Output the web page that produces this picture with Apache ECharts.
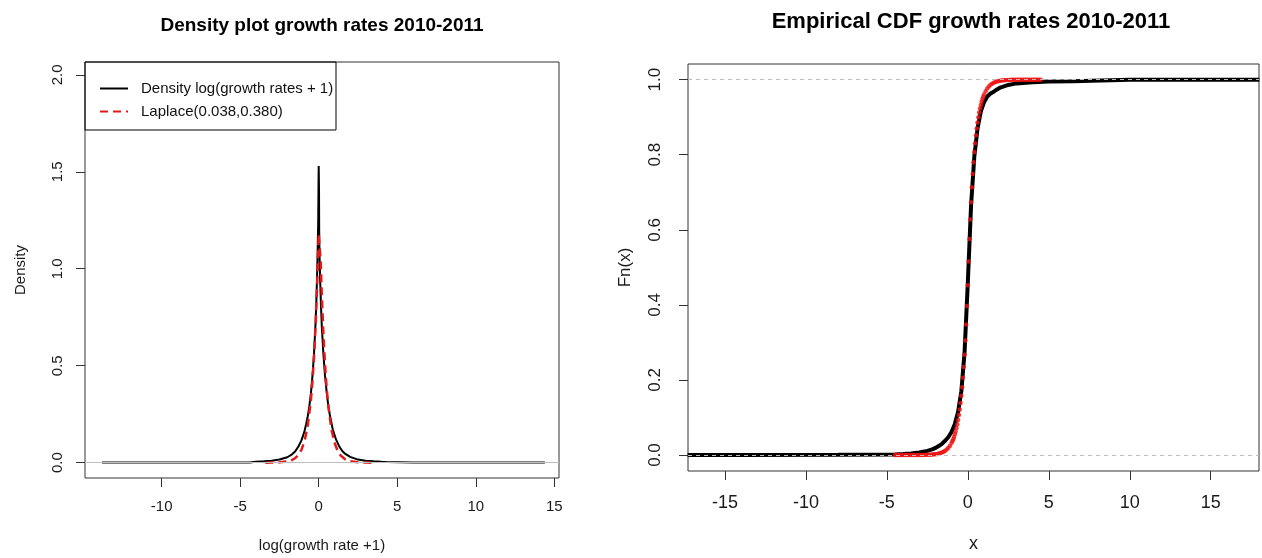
<!DOCTYPE html>
<html>
<head>
<meta charset="utf-8">
<script src="https://cdn.jsdelivr.net/npm/echarts@6/dist/echarts.min.js"></script>
<style>
html,body{margin:0;padding:0;background:#fff;}
#c{width:1262px;height:558px;}
</style>
</head>
<body>
<div id="c"></div>
<script>
// ---------- data ----------
const leftTitle = 'Density plot growth rates 2010-2011';
const rightTitle = 'Empirical CDF growth rates 2010-2011';
const densityName = 'Density log(growth rates + 1)';
const laplaceName = 'Laplace(0.038,0.380)';

// left panel: kernel density of log(growth rate + 1)
const densityX = [-13.8,-10,-6,-4.4,-4.3,-4,-3.5,-3,-2.5,-2,-1.7,-1.5,-1.3,-1.1,-1.0,-0.9,-0.8,-0.7,-0.6,-0.5,-0.4,-0.3,-0.2,-0.15,-0.1,-0.06,-0.03,-0.01,0.0,0.01,0.02,0.03,0.05,0.1,0.15,0.2,0.3,0.4,0.5,0.6,0.7,0.8,0.9,1.0,1.1,1.3,1.5,1.7,2.0,2.5,3,3.5,4,4.3,4.4,6,10,14.4];
const densityY = [0.0005,0.0005,0.0005,0.001,0.004,0.005,0.007,0.010,0.016,0.028,0.043,0.058,0.082,0.115,0.138,0.165,0.198,0.238,0.288,0.355,0.445,0.56,0.72,0.83,0.97,1.12,1.25,1.45,1.53,1.53,1.40,1.20,1.08,0.92,0.80,0.70,0.56,0.45,0.37,0.30,0.25,0.21,0.17,0.145,0.12,0.085,0.06,0.045,0.03,0.016,0.010,0.007,0.005,0.004,0.001,0.0005,0.0005,0.0005];

// left panel: Laplace(0.038, 0.380) density (dashed red)
const laplaceX = [-3.4,-3.0,-2.5,-2.0,-1.7,-1.5,-1.3,-1.1,-0.9,-0.7,-0.5,-0.4,-0.3,-0.2,-0.1,-0.05,0.0,0.08,0.13,0.2,0.3,0.4,0.5,0.6,0.8,1.0,1.2,1.4,1.7,2.0,2.5,3.0,3.5];
const laplaceY = [0.0002,0.0004,0.0017,0.0062,0.0136,0.023,0.039,0.066,0.111,0.189,0.319,0.416,0.541,0.704,0.915,1.044,1.18,1.178,1.033,0.859,0.661,0.508,0.390,0.300,0.177,0.105,0.062,0.0366,0.0166,0.0075,0.002,0.0005,0.0001];

// right panel: empirical CDF (black)
const ecdfX = [-17.3,-13.8,-8,-4.5,-4.0,-3.5,-3.0,-2.5,-2.2,-2.0,-1.8,-1.6,-1.4,-1.2,-1.0,-0.8,-0.6,-0.4,-0.2,0.0,0.2,0.4,0.6,0.8,1.0,1.2,1.4,1.6,1.8,2.0,2.5,3.0,4.0,5.0,6.5,6.5,10,14.4,18];
const ecdfY = [0.0,0.0002,0.0008,0.0015,0.0025,0.004,0.007,0.011,0.015,0.019,0.024,0.030,0.038,0.048,0.062,0.083,0.115,0.17,0.275,0.46,0.665,0.795,0.87,0.915,0.94,0.955,0.963,0.968,0.974,0.979,0.986,0.990,0.993,0.995,0.996,0.999,0.9995,1.0,1.0];

// right panel: Laplace CDF points (red)
const laplaceCdfX = [-4.5,-4.4,-4.3,-4.2,-4.1,-4.0,-3.9,-3.8,-3.7,-3.6,-3.5,-3.4,-3.3,-3.2,-3.1,-3.0,-2.9,-2.8,-2.7,-2.6,-2.5,-2.4,-2.3,-2.2,-2.1,-2.0,-1.9,-1.8,-1.7,-1.6,-1.5,-1.4,-1.3,-1.2,-1.1,
  -1.0,-0.95,-0.9,-0.85,-0.8,-0.75,-0.7,-0.65,-0.6,-0.55,-0.5,-0.45,-0.4,-0.35,-0.3,-0.25,-0.2,-0.15,-0.1,-0.05,0.0,0.05,0.1,0.15,0.2,0.25,0.3,0.35,0.4,0.45,0.5,0.55,0.6,0.65,0.7,0.75,0.8,0.85,0.9,0.95,1.0,
  1.1,1.2,1.3,1.4,1.5,1.6,1.7,1.8,1.9,2.0,2.1,2.2,2.3,2.4,2.5,2.6,2.7,2.8,2.9,3.0,3.1,3.2,3.3,3.4,3.5,3.6,3.7,3.8,3.9,4.0,4.1,4.2,4.3,4.4,4.5];
const laplaceCdfY = [0.0000,0.0000,0.0000,0.0000,0.0000,0.0000,0.0000,0.0000,0.0000,0.0001,0.0001,0.0001,0.0001,0.0001,0.0001,0.0002,0.0002,0.0003,0.0004,0.0005,0.0006,0.0008,0.0011,0.0014,0.0018,0.0024,0.0031,0.0040,0.0052,0.0067,0.0087,0.0114,0.0148,0.0192,0.0250,
  0.0326,0.0372,0.0424,0.0484,0.0552,0.0629,0.0718,0.0819,0.0934,0.1065,0.1215,0.1386,0.1581,0.1803,0.2056,0.2345,0.2675,0.3051,0.3480,0.3969,0.4524,0.5155,0.5752,0.6276,0.6735,0.7137,0.7490,0.7800,0.8071,0.8309,0.8517,0.8700,0.8860,0.9001,0.9124,0.9232,0.9327,0.9410,0.9482,0.9546,0.9602,
  0.9694,0.9765,0.9819,0.9861,0.9893,0.9918,0.9937,0.9951,0.9963,0.9971,0.9978,0.9983,0.9987,0.9990,0.9992,0.9994,0.9995,0.9996,0.9997,0.9998,0.9998,0.9999,0.9999,0.9999,0.9999,1.0,1.0,1.0,1.0,1.0,1.0,1.0,1.0,1.0,1.0];

// tick labels
const leftXTicks = [-10,-5,0,5,10,15];
const leftYTicks = [0,0.5,1,1.5,2];
const rightXTicks = [-15,-10,-5,0,5,10,15];
const rightYTicks = [0,0.2,0.4,0.6,0.8,1];
const leftXName = 'log(growth rate +1)';
const leftYName = 'Density';
const rightXName = 'x';
const rightYName = 'Fn(x)';
const refLinesRight = [0, 1];
const refLineLeft = 0;

// ---------- chart ----------
const FONT = 'Liberation Sans, Arial, sans-serif';
const zip = (xs, ys) => xs.map((x, i) => [x, ys[i]]);
const fmt1 = v => Number(v).toFixed(1);

const chart = echarts.init(document.getElementById('c'), null, {renderer: 'canvas'});

function xAx(gi, min, max, ticks, name, fs, margin, gap) {
  return {
    gridIndex: gi, type: 'value', min: min, max: max, position: 'bottom',
    axisLine: {show: false, onZero: false}, splitLine: {show: false},
    axisTick: {show: true, inside: false, length: 9, customValues: ticks, lineStyle: {color: '#333', width: 1}},
    axisLabel: {customValues: ticks, fontSize: fs, fontFamily: FONT, color: '#1a1a1a', margin: margin},
    name: name, nameLocation: 'middle', nameGap: gap,
    nameTextStyle: {fontSize: fs, fontFamily: FONT, color: '#1a1a1a'}
  };
}
function yAx(gi, min, max, ticks, name, fs, margin, gap) {
  return {
    gridIndex: gi, type: 'value', min: min, max: max, position: 'left',
    axisLine: {show: false, onZero: false}, splitLine: {show: false},
    axisTick: {show: true, inside: false, length: 9, customValues: ticks, lineStyle: {color: '#333', width: 1}},
    axisLabel: {customValues: ticks, formatter: fmt1, rotate: 90, fontSize: fs, fontFamily: FONT, color: '#1a1a1a', margin: margin},
    name: name, nameLocation: 'middle', nameRotate: 90, nameGap: gap,
    nameTextStyle: {fontSize: fs, fontFamily: FONT, color: '#1a1a1a'}
  };
}

const option = {
  animation: false,
  backgroundColor: '#fff',
  grid: [
    {left: 85, top: 62, width: 474, height: 416, show: true, borderColor: '#333', borderWidth: 1, backgroundColor: 'transparent'},
    {left: 688, top: 64, width: 571, height: 409, show: true, borderColor: '#333', borderWidth: 1, backgroundColor: 'transparent'}
  ],
  xAxis: [
    xAx(0, -14.88, 15.3, leftXTicks, leftXName, 15, 21, 60),
    xAx(1, -17.28, 17.98, rightXTicks, rightXName, 18, 23, 64)
  ],
  yAxis: [
    yAx(0, -0.079, 2.066, leftYTicks, leftYName, 15, 20, 57),
    yAx(1, -0.0425, 1.0417, rightYTicks, rightYName, 17, 24, 54)
  ],
  legend: {
    data: [densityName, laplaceName],
    orient: 'vertical', left: 99, top: 81, padding: 0,
    itemWidth: 28, itemHeight: 14, itemGap: 8,
    itemStyle: {opacity: 0, color: 'transparent', borderWidth: 0},
    textStyle: {fontSize: 15, fontFamily: FONT, color: '#111', padding: [0, 0, 0, 8]}
  },
  graphic: [
    {type: 'rect', shape: {x: 85, y: 62, width: 251, height: 68}, style: {fill: 'none', stroke: '#000', lineWidth: 1}, z: 100},
    {type: 'text', style: {text: leftTitle, x: 322, y: 26, textAlign: 'center', textVerticalAlign: 'middle', font: 'bold 19px ' + FONT, fill: '#000'}},
    {type: 'text', style: {text: rightTitle, x: 971, y: 22, textAlign: 'center', textVerticalAlign: 'middle', font: 'bold 22px ' + FONT, fill: '#000'}}
  ],
  series: [
    {
      name: 'zeroLeft', type: 'line', xAxisIndex: 0, yAxisIndex: 0, data: [], z: 1,
      markLine: {silent: true, symbol: 'none', label: {show: false}, lineStyle: {color: '#bebebe', width: 1, type: 'solid'}, data: [{yAxis: refLineLeft}]}
    },
    {
      name: densityName, type: 'line', xAxisIndex: 0, yAxisIndex: 0,
      data: zip(densityX, densityY), symbol: 'none', z: 3,
      lineStyle: {color: '#000', width: 2}, itemStyle: {color: '#000'}
    },
    {
      name: laplaceName, type: 'line', xAxisIndex: 0, yAxisIndex: 0,
      data: zip(laplaceX, laplaceY), symbol: 'none', z: 4,
      lineStyle: {color: '#e41a1a', width: 2.5, type: [8, 5]}, itemStyle: {color: '#e41a1a'}
    },
    {
      name: 'ecdf', type: 'line', xAxisIndex: 1, yAxisIndex: 1,
      data: zip(ecdfX, ecdfY), symbol: 'none', z: 3, clip: true,
      lineStyle: {color: '#000', width: 4}
    },
    {
      name: 'laplaceCdf', type: 'scatter', xAxisIndex: 1, yAxisIndex: 1,
      data: zip(laplaceCdfX, laplaceCdfY), symbol: 'circle', symbolSize: 4.5, z: 4,
      itemStyle: {color: '#ee1111'}
    },
    {
      name: 'refRight', type: 'line', xAxisIndex: 1, yAxisIndex: 1, data: [], z: 10,
      markLine: {silent: true, symbol: 'none', label: {show: false}, lineStyle: {color: '#bdbdbd', width: 1, type: [4, 4]},
        data: refLinesRight.map(v => ({yAxis: v}))}
    }
  ]
};
chart.setOption(option);
</script>
</body>
</html>
